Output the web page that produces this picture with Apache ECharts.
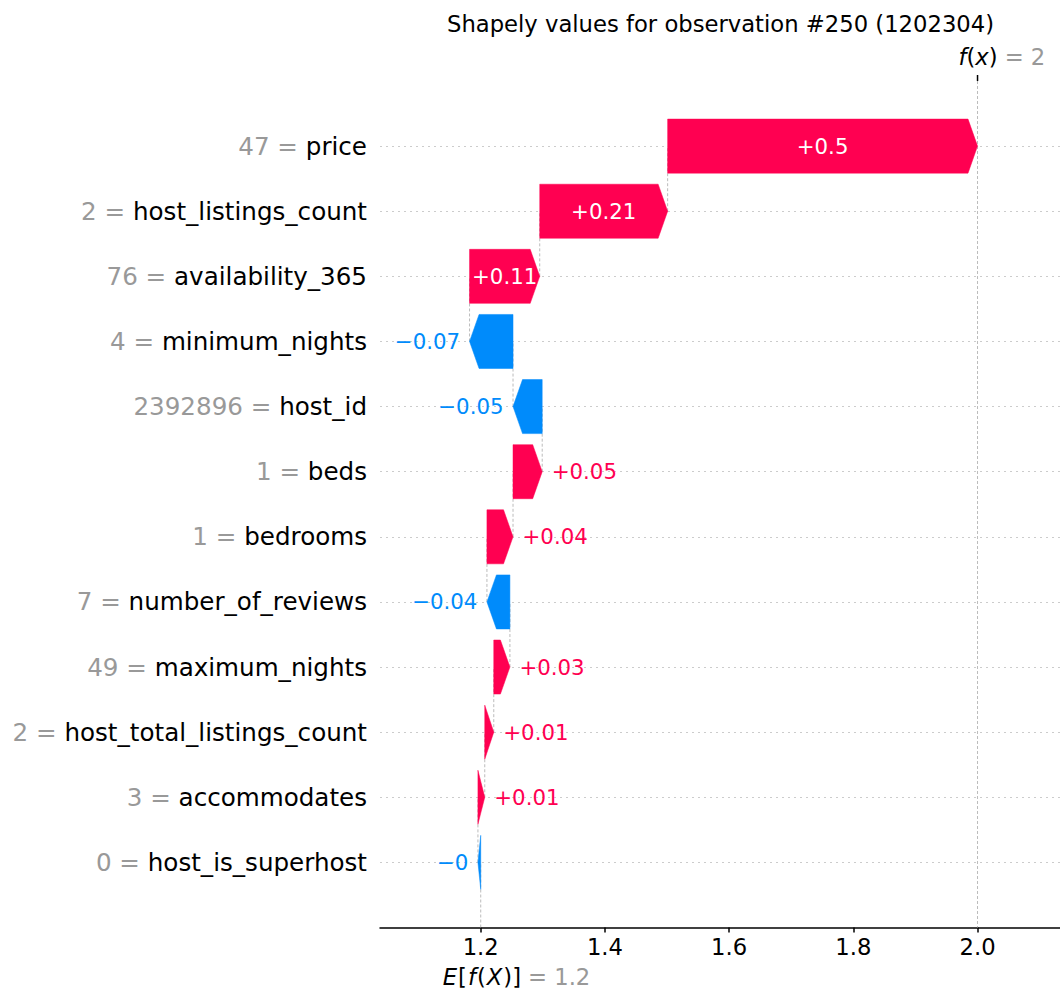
<!DOCTYPE html>
<html>
<head>
<meta charset="utf-8">
<title>Shapely values waterfall</title>
<script src="https://cdn.jsdelivr.net/npm/echarts@6/dist/echarts.min.js"></script>
<style>
  html, body { margin: 0; padding: 0; background: #ffffff; }
  #chart { width: 1060px; height: 988px; }
</style>
</head>
<body>
<div id="chart"></div>
<script>
// Features listed from top row to bottom row
const featureNames = ['price', 'host_listings_count', 'availability_365', 'minimum_nights', 'host_id',
  'beds', 'bedrooms', 'number_of_reviews', 'maximum_nights', 'host_total_listings_count',
  'accommodates', 'host_is_superhost'];
const featureValues = ['47', '2', '76', '4', '2392896', '1', '1', '7', '49', '2', '3', '0'];
const shapValues = [0.499, 0.206, 0.113, -0.07, -0.047, 0.047, 0.042, -0.037, 0.026, 0.0145, 0.011, -0.0045];
const baseValue = 1.2;
const xTickValues = [1.2, 1.4, 1.6, 1.8, 2.0];
const titleText = 'Shapely values for observation #250 (1202304)';

const FONT = "'DejaVu Sans', 'Liberation Sans', sans-serif";
const RED = '#ff0051';
const BLUE = '#008bfb';
const GREY = '#999999';

// y categories: one empty slot above and below the feature rows
const rows = ['_top'].concat(featureNames, ['_bottom']);
const lastRow = rows.length - 1;

// Waterfall: accumulate from the expected value, starting at the bottom row
const bars = [];
const connectors = [];
let cum = baseValue;
for (let i = featureNames.length - 1; i >= 0; i--) {
  const start = cum;
  cum += shapValues[i];
  bars.push([start, cum, i + 1, shapValues[i]]);
  if (i > 0) connectors.push([cum, i + 1, i]);
}
const fx = cum;
connectors.push([baseValue, lastRow, lastRow - 1]); // E[f(X)] guide
connectors.push([fx, 0, lastRow]);                  // f(x) guide

function trimNum(v) {
  let s = Math.abs(v).toFixed(2);
  if (s.indexOf('.') >= 0) s = s.replace(/0+$/, '').replace(/\.$/, '');
  return s;
}
function signed(v) {
  return (v < 0 ? '\u2212' : '+') + trimNum(v);
}

const measureCtx = document.createElement('canvas').getContext('2d');
function textWidth(s, size) {
  measureCtx.font = size + 'px ' + FONT;
  return measureCtx.measureText(s).width;
}

const LABEL_SIZE = 21.3;

function renderBar(params, api) {
  const x0 = api.value(0), x1 = api.value(1), row = api.value(2), v = api.value(3);
  const p0 = api.coord([x0, row]);
  const p1 = api.coord([x1, row]);
  const h = api.size([0, 1])[1] * 0.83;
  const yM = p0[1], yT = yM - h / 2, yB = yM + h / 2;
  const w = Math.abs(p1[0] - p0[0]);
  const dir = v >= 0 ? 1 : -1;
  const hl = Math.min(9.5, w);
  const pts = [[p0[0], yT], [p1[0] - dir * hl, yT], [p1[0], yM], [p1[0] - dir * hl, yB], [p0[0], yB]];
  const color = v >= 0 ? RED : BLUE;
  const label = signed(v);
  const tw = textWidth(label, LABEL_SIZE);
  let tx, align, fill;
  if (tw < w) {
    tx = (p0[0] + p1[0]) / 2; align = 'center'; fill = '#ffffff';
  } else {
    tx = p1[0] + dir * 9.5; align = dir > 0 ? 'left' : 'right'; fill = color;
  }
  return {
    type: 'group',
    children: [
      { type: 'polygon', shape: { points: pts }, style: { fill: color, stroke: color, lineWidth: 0.5 } },
      { type: 'text', style: { text: label, x: tx, y: yM, align: align, verticalAlign: 'middle',
          fill: fill, fontSize: LABEL_SIZE, fontFamily: FONT } }
    ]
  };
}

function renderConnector(params, api) {
  const a = api.coord([api.value(0), api.value(1)]);
  const b = api.coord([api.value(0), api.value(2)]);
  return {
    type: 'line',
    shape: { x1: a[0], y1: a[1], x2: b[0], y2: b[1] },
    style: { stroke: '#bbbbbb', lineWidth: 1, lineDash: [3, 2] }
  };
}

// math-style labels: italic symbols with a little extra room around them
const mathRich = {
  i: { fontStyle: 'italic', fontSize: 22.7, fontFamily: FONT, fill: '#000000', color: '#000000' },
  ip: { fontStyle: 'italic', fontSize: 22.7, fontFamily: FONT, fill: '#000000', color: '#000000', padding: [0, 1, 0, 1] },
  n: { fontSize: 22.7, fontFamily: FONT, fill: '#000000', color: '#000000' },
  g: { fontSize: 22.7, fontFamily: FONT, fill: GREY, color: GREY, padding: [0, 0, 0, 7] }
};

function renderAnnotation(params, api) {
  const p = api.coord([api.value(0), api.value(1)]);
  if (params.dataIndex === 0) {
    // f(x) marker above the plot
    return {
      type: 'group',
      children: [
        { type: 'line', shape: { x1: p[0], y1: p[1], x2: p[0], y2: p[1] - 6 },
          style: { stroke: '#000000', lineWidth: 1.5 } },
        { type: 'text', style: { text: '{i|f}{n|(}{i|x}{n|)}{g|= ' + trimNum(api.value(0)) + '}',
            rich: mathRich, x: p[0] - 19, y: p[1] - 24, align: 'left', verticalAlign: 'middle' } }
      ]
    };
  }
  // E[f(X)] marker below the axis
  return {
    type: 'text',
    style: { text: '{ip|E}{n|[}{ip|f}{n|(}{ip|X}{n|)]}{g|= ' + trimNum(api.value(0)) + '}',
      rich: mathRich, x: p[0] - 39, y: p[1] + 49, align: 'left', verticalAlign: 'middle' }
  };
}

const chart = echarts.init(document.getElementById('chart'), null, { renderer: 'svg' });
chart.setOption({
  animation: false,
  backgroundColor: '#ffffff',
  title: {
    text: titleText,
    left: 447, top: 12, padding: 0,
    textStyle: { fontSize: 22.7, fontWeight: 'normal', color: '#000000', fontFamily: FONT }
  },
  grid: { left: 380, right: 0, top: 81, bottom: 60.5 },
  xAxis: {
    type: 'value', min: 1.0378, max: 2.1328,
    axisLine: { show: true, lineStyle: { color: '#000000', width: 1.5 } },
    axisTick: { show: true, customValues: xTickValues, length: 5, lineStyle: { color: '#000000', width: 1.5 } },
    axisLabel: { customValues: xTickValues, formatter: v => Number(v).toFixed(1),
      fontSize: 22.7, color: '#000000', fontFamily: FONT, margin: 8 },
    splitLine: { show: false }
  },
  yAxis: {
    type: 'category', inverse: true, boundaryGap: false, data: rows,
    axisLine: { show: false }, axisTick: { show: false },
    axisLabel: {
      interval: 0, margin: 13,
      formatter: (val, idx) => (idx === 0 || idx === lastRow) ? '' :
        '{v|' + featureValues[idx - 1] + ' = }{n|' + featureNames[idx - 1] + '}',
      rich: {
        v: { color: GREY, fontSize: 24.6, fontFamily: FONT },
        n: { color: '#000000', fontSize: 24.6, fontFamily: FONT }
      }
    },
    splitLine: {
      show: true,
      interval: (idx) => idx > 0 && idx < lastRow,
      lineStyle: { color: '#cccccc', width: 1, type: [2, 4] }
    }
  },
  series: [
    { type: 'custom', name: 'guides', z: 1, renderItem: renderConnector,
      encode: { x: 0, y: [1, 2] }, data: connectors },
    { type: 'custom', name: 'contributions', z: 3, renderItem: renderBar,
      encode: { x: [0, 1], y: 2 }, data: bars },
    { type: 'custom', name: 'markers', z: 4, renderItem: renderAnnotation,
      encode: { x: 0, y: 1 }, data: [[fx, 0], [baseValue, lastRow]] }
  ]
});
</script>
</body>
</html>
